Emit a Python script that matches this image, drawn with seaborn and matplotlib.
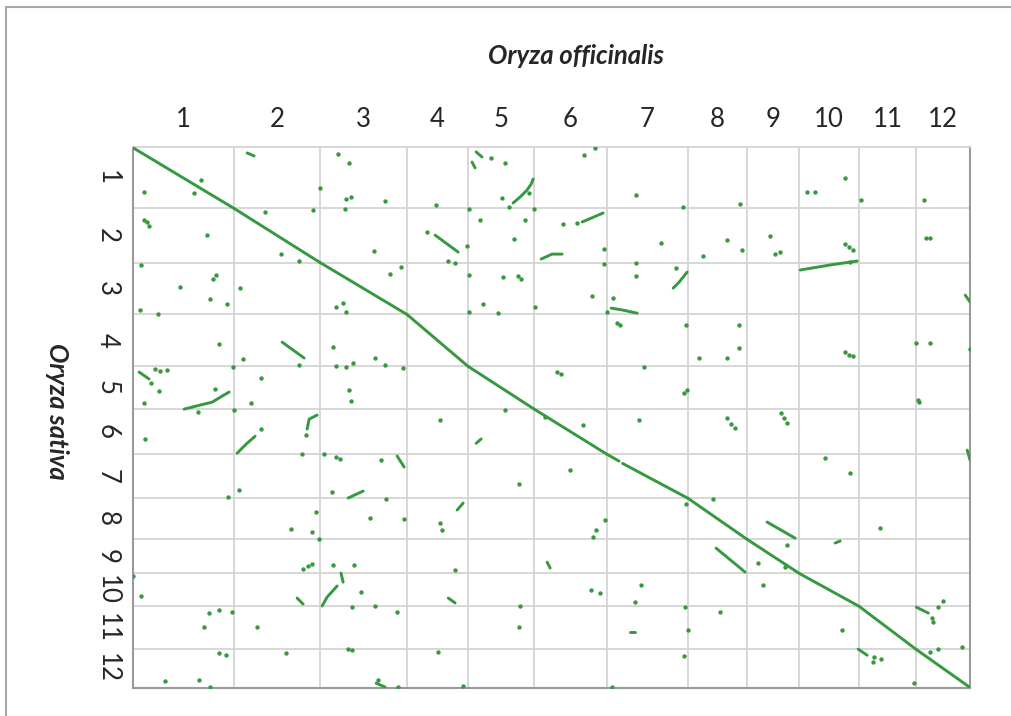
import pandas as pd
import numpy as np
import seaborn as sns
import matplotlib.pyplot as plt
from matplotlib.lines import Line2D

# Chromosome lengths (Mb), Oryza officinalis on x, Oryza sativa on y
off_len = [71.0, 60.2, 60.9, 42.7, 46.2, 51.1, 56.7, 41.3, 36.4, 42.0, 39.9, 37.8]
sat_len = [42.2, 37.4, 35.9, 35.8, 29.5, 31.3, 30.4, 28.3, 23.5, 22.8, 29.7, 26.4]
chrom_labels = [str(i) for i in range(1, 13)]

# Syntenic runs (cumulative Mb): main diagonal first, then off-diagonal blocks
seg_x = [
    [0.3, 71.0], [71.0, 131.2], [131.2, 192.1], [192.1, 234.8], [234.8, 281.0],
    [281.0, 332.1], [332.1, 340.5], [343.0, 388.8], [388.8, 430.1], [430.1, 466.5],
    [466.5, 508.5], [508.5, 548.4], [548.4, 586.2],
    [80.2, 85.1], [104.7, 120.1], [4.6, 11.6], [36.1, 47.3, 55.7, 62.7, 67.6],
    [73.2, 79.5, 85.8], [122.2, 123.6, 129.2], [185.2, 190.1], [150.9, 161.4],
    [145.9, 147.4], [132.7, 136.2, 143.2], [115.2, 119.4], [170.5, 176.8],
    [240.5, 244.6], [237.6, 239.8], [266.4, 271.3, 276.2, 279.0, 280.4],
    [314.7, 329.4], [211.8, 227.9], [286.0, 293.7, 300.7], [378.4, 382.6, 388.2],
    [335.0, 343.4, 353.2], [444.1, 463.7], [491.8, 495.3], [548.6, 557.0],
    [507.9, 514.2], [408.4, 428.8], [467.3, 488.3, 507.2], [582.8, 586.2],
    [240.5, 244.0], [227.2, 231.4], [221.0, 225.8], [584.2, 586.2],
    [290.2, 292.3], [348.3, 351.8],
]
seg_y = [
    [0.3, 42.2], [42.2, 79.6], [79.6, 115.5], [115.5, 151.3], [151.3, 180.8],
    [180.8, 212.1], [212.1, 216.8], [218.4, 242.5], [242.5, 270.8], [270.8, 294.3],
    [294.3, 317.1], [317.1, 346.8], [346.8, 373.2],
    [3.9, 6.0], [134.6, 145.6], [155.3, 160.1], [180.9, 178.1, 176.1, 171.9, 169.1],
    [211.3, 205.1, 199.6], [194.7, 187.8, 185.0], [213.3, 220.9], [242.3, 237.5],
    [294.2, 300.4], [316.9, 310.7, 303.1], [311.4, 315.6], [370.2, 372.9],
    [3.2, 6.7], [10.2, 14.3], [38.5, 34.3, 29.5, 25.4, 21.9],
    [51.6, 45.4], [60.7, 72.4], [77.2, 73.8, 73.8], [97.3, 93.1, 86.2],
    [111.1, 112.5, 114.6], [258.9, 270.0], [273.4, 272.0], [317.7, 321.8],
    [346.7, 350.9], [276.9, 293.5], [84.8, 81.3, 78.6], [102.1, 106.9],
    [204.5, 201.5], [250.6, 245.8], [311.4, 314.8], [209.2, 216.1],
    [286.6, 290.7], [334.9, 334.9],
]

# Isolated hits (cumulative Mb)
dot_x = [
    143.9, 151.6, 8.1, 48.0, 43.1, 131.3, 149.5, 153.0, 176.8, 148.8, 126.4, 92.8,
    8.1, 10.2, 11.6, 52.2, 104.0, 116.6, 169.1, 6.0, 188.0, 180.3, 58.5, 56.4,
    33.3, 75.3, 54.3, 66.2, 5.3, 17.9, 142.5, 147.4, 149.5, 60.6, 77.4, 140.4,
    169.8, 154.4, 149.5, 142.5, 176.8, 189.4, 70.4, 116.6, 15.8, 19.3, 24.2, 13.0,
    18.6, 8.1, 90.0, 57.8, 45.9, 83.0, 151.6, 153.0, 71.1, 8.8, 90.0, 121.5,
    118.7, 134.1, 142.5, 145.3, 174.0, 66.9, 74.6, 139.7, 177.5, 128.5, 166.3, 190.1,
    111.0, 125.7, 130.6, 119.4, 122.9, 125.7, 140.4, 155.1, 0.4, 6.0, 160.0, 153.7,
    169.8, 185.2, 53.6, 60.6, 69.7, 87.2, 50.1, 60.6, 65.5, 107.5, 150.9, 153.7,
    22.8, 46.6, 54.3, 171.9, 185.9,
    251.0, 260.8, 316.1, 323.8, 277.6, 258.7, 263.6, 281.1, 212.5, 235.6, 352.5, 311.2,
    301.4, 243.3, 274.8, 267.1, 206.2, 234.2, 220.9, 225.8, 330.1, 330.1, 370.0, 352.5,
    352.5, 380.5, 235.6, 259.4, 269.9, 272.0, 321.7, 245.4, 281.8, 235.6, 255.9, 336.4,
    332.2, 339.2, 341.3, 456.8, 441.4, 559.8, 560.5, 564.0, 567.4, 564.0, 580.7, 519.1,
    524.0, 547.1, 558.3,
    385.4, 425.3, 472.2, 477.8, 498.8, 510.0, 554.0, 399.4, 416.2, 426.7, 446.3, 449.8,
    453.3, 498.8, 501.6, 504.4, 555.4, 558.3, 502.3, 424.6, 387.5, 416.2, 424.6, 498.8,
    501.6, 504.4, 548.5, 558.3, 586.2, 396.2, 358.1, 297.1, 299.9, 388.2, 550.0, 550.6,
    386.1, 416.2, 419.0, 421.8, 453.9, 456.1, 458.2, 354.6, 484.8, 502.3, 406.4, 387.5,
    523.3, 324.5, 458.2, 437.8, 356.0, 351.8, 386.8, 388.9, 411.3, 496.6, 335.7, 386.1,
    518.4, 215.3, 260.8, 315.4, 288.8, 215.3, 216.7, 322.4, 330.8, 270.6, 306.3, 225.8,
    327.3, 271.3, 321.0, 213.9, 270.6, 231.4,
]
dot_y = [
    4.6, 10.8, 30.9, 22.6, 31.6, 28.1, 35.7, 34.3, 37.1, 42.6, 43.3, 44.7,
    50.2, 51.6, 54.4, 60.6, 73.7, 78.6, 71.7, 81.3, 82.7, 87.5, 88.2, 91.0,
    96.5, 97.2, 104.8, 108.3, 112.4, 115.2, 110.4, 107.6, 113.8, 135.9, 146.3, 138.0,
    145.6, 149.0, 151.8, 151.1, 150.4, 152.5, 151.8, 150.4, 153.2, 154.6, 153.9, 162.9,
    168.4, 176.8, 159.4, 167.0, 182.9, 176.7, 167.7, 175.3, 181.5, 201.6, 194.6, 198.8,
    211.9, 211.9, 214.0, 215.4, 216.1, 241.6, 236.8, 238.2, 243.0, 251.9, 256.1, 256.8,
    263.8, 265.8, 270.7, 291.4, 289.3, 287.9, 288.6, 288.6, 296.2, 310.0, 307.2, 317.6,
    316.9, 321.1, 321.8, 319.7, 321.1, 331.4, 331.4, 349.3, 350.8, 349.3, 346.6, 347.3,
    368.8, 368.1, 372.9, 368.1, 372.9,
    7.5, 10.8, 5.3, 0.4, 31.6, 35.0, 41.3, 42.6, 39.9, 42.6, 33.0, 52.3,
    53.0, 50.2, 50.2, 63.4, 58.5, 68.2, 78.6, 80.0, 70.3, 80.6, 66.1, 79.9,
    88.9, 83.4, 88.2, 89.6, 88.9, 91.0, 102.7, 108.3, 110.4, 113.8, 114.5, 104.1,
    113.8, 121.4, 122.8, 290.0, 302.4, 325.2, 328.0, 317.6, 313.5, 346.6, 345.3, 352.2,
    353.6, 370.2, 348.7,
    41.4, 39.2, 30.9, 30.9, 21.2, 36.4, 36.4, 75.1, 64.0, 70.9, 61.3, 73.8,
    72.4, 66.8, 68.9, 71.0, 62.7, 62.7, 79.3, 122.8, 122.8, 145.6, 138.7, 141.4,
    143.5, 144.2, 135.2, 135.2, 139.3, 145.6, 151.8, 155.3, 156.6, 167.7, 174.6, 176.0,
    169.8, 187.1, 191.2, 194.0, 183.6, 187.1, 190.5, 188.4, 214.7, 225.1, 242.9, 246.4,
    263.3, 264.6, 274.8, 287.3, 302.4, 314.2, 317.6, 333.6, 321.1, 333.6, 372.9, 351.5,
    355.6, 188.4, 181.5, 191.9, 186.4, 259.6, 264.5, 269.3, 257.5, 232.7, 223.0, 292.1,
    307.9, 316.9, 305.9, 348.7, 331.4, 372.4,
]

green = '#36993f'
grid_col = '#d4d4d4'

off_edges = np.concatenate([[0], np.cumsum(off_len)])
sat_edges = np.concatenate([[0], np.cumsum(sat_len)])
off_mid = off_edges[:-1] + np.array(off_len) / 2
sat_mid = sat_edges[:-1] + np.array(sat_len) / 2

rows = []
for i, (xs, ys) in enumerate(zip(seg_x, seg_y)):
    for x, y in zip(xs, ys):
        rows.append({'seg': i, 'x': x, 'y': y})
seg_df = pd.DataFrame(rows)
dot_df = pd.DataFrame({'x': dot_x, 'y': dot_y})

sns.set_theme(style='white')
plt.rcParams['font.family'] = ['Lato', 'DejaVu Sans']

fig = plt.figure(figsize=(10.11, 7.16), dpi=100)
ax = fig.add_axes([0.1311, 0.0398, 0.8284, 0.7545])

for e in off_edges[1:-1]:
    ax.axvline(e, color=grid_col, lw=1.3, zorder=1)
for e in sat_edges[1:-1]:
    ax.axhline(e, color=grid_col, lw=1.3, zorder=1)

sns.lineplot(data=seg_df, x='x', y='y', units='seg', estimator=None, sort=False,
             color=green, lw=2.1, ax=ax, zorder=3, solid_capstyle='round')
sns.scatterplot(data=dot_df, x='x', y='y', color=green, s=10, linewidth=0,
                ax=ax, zorder=3)

ax.set_xlim(0, off_edges[-1])
ax.set_ylim(sat_edges[-1], 0)
ax.xaxis.tick_top()
ax.set_xticks(off_mid)
ax.set_xticklabels(chrom_labels, fontsize=18.5)
ax.set_yticks(sat_mid)
ax.set_yticklabels(chrom_labels, fontsize=18.5, rotation=-90, va='center')
ax.tick_params(axis='x', length=0, pad=11)
ax.tick_params(axis='y', length=0, pad=9)
ax.set_xlabel('')
ax.set_ylabel('')

for side in ['left', 'bottom', 'right']:
    ax.spines[side].set_color('#9a9a9a')
    ax.spines[side].set_linewidth(1.5)
ax.spines['top'].set_color(grid_col)
ax.spines['top'].set_linewidth(1.3)

fig.text(0.570, 0.922, 'Oryza officinalis', fontsize=18.5, fontweight='bold',
         style='italic', ha='center', va='center')
fig.text(0.0564, 0.426, 'Oryza sativa', fontsize=18.5, fontweight='bold',
         style='italic', rotation=-90, ha='center', va='center')

# outer frame of the original figure
fig.add_artist(Line2D([0.006, 1.0], [0.990, 0.990], color='#a8a8a8', lw=1.5,
                      transform=fig.transFigure))
fig.add_artist(Line2D([0.006, 0.006], [0.0, 0.990], color='#a8a8a8', lw=1.5,
                      transform=fig.transFigure))

fig.savefig('out.png', dpi=100)
